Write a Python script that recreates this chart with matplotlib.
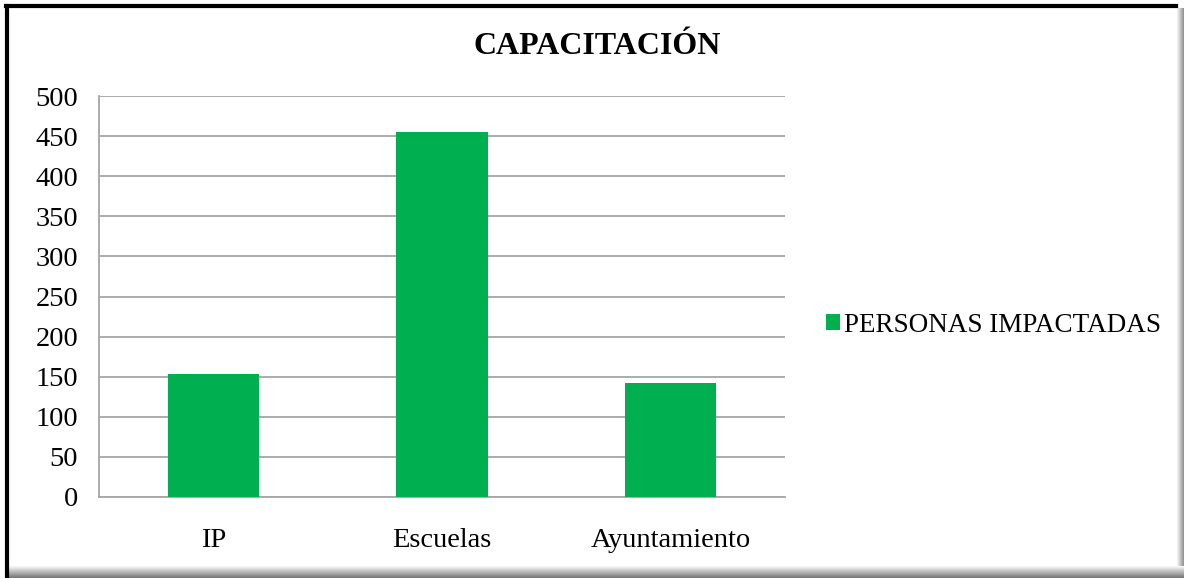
import matplotlib.pyplot as plt
from matplotlib.lines import Line2D

# datos del gráfico
categorias = ["IP", "Escuelas", "Ayuntamiento"]
personas = [153, 455, 142]
serie = "PERSONAS IMPACTADAS"
titulo = "CAPACITACIÓN"
ticks_y = [0, 50, 100, 150, 200, 250, 300, 350, 400, 450, 500]

verde = "#00b050"
gris = "#a6a6a6"

plt.rcParams["font.family"] = ["Liberation Serif", "DejaVu Serif"]

fig = plt.figure(figsize=(11.84, 5.78), dpi=100)
ax = fig.add_axes([99 / 1184, 1 - 497 / 578, 686 / 1184, 401 / 578])

x = range(len(categorias))
ax.bar(x, personas, width=0.4, color=verde, label=serie, zorder=3)
ax.set_xlim(-0.5, len(categorias) - 0.5)
ax.set_ylim(0, 500)
ax.set_yticks(ticks_y)
ax.set_xticks(list(x))
ax.set_xticklabels(categorias)

ax.grid(axis="y", color=gris, linewidth=1.3, zorder=0)
for lado in ["top", "right"]:
    ax.spines[lado].set_visible(False)
for lado in ["left", "bottom"]:
    ax.spines[lado].set_color(gris)
    ax.spines[lado].set_linewidth(1.3)
ax.tick_params(axis="both", length=0, labelsize=20.5, colors="#000000")
ax.tick_params(axis="y", pad=15)
ax.tick_params(axis="x", pad=22)

fig.text(597 / 1184, 1 - 47 / 578, titulo, ha="center", va="center",
         fontsize=23, fontweight="bold")

fig.legend(loc="center left", bbox_to_anchor=(826 / 1184, 1 - 325 / 578),
           frameon=False, fontsize=19.5, handlelength=0.52, handleheight=0.52,
           handletextpad=0.15, borderpad=0, borderaxespad=0)

# sombra gris a la derecha y abajo
for i in range(8):
    tono = str(0.95 - 0.06 * i)
    fig.add_artist(Line2D([(1176.5 + i) / 1184] * 2, [0, 1 - 8 / 578],
                          transform=fig.transFigure, color=tono, linewidth=0.75))
for i in range(12):
    tono = str(0.97 - 0.045 * i)
    fig.add_artist(Line2D([8 / 1184, 1], [(12.5 - i) / 578] * 2,
                          transform=fig.transFigure, color=tono, linewidth=0.75))

# borde negro arriba e izquierda
fig.add_artist(Line2D([7 / 1184, 7 / 1184], [2 / 578, 1 - 6 / 578],
                      transform=fig.transFigure, color="black", linewidth=3))
fig.add_artist(Line2D([6 / 1184, 1176 / 1184], [1 - 6 / 578] * 2,
                      transform=fig.transFigure, color="black", linewidth=3))

fig.savefig("out.png", dpi=100, facecolor="white")
